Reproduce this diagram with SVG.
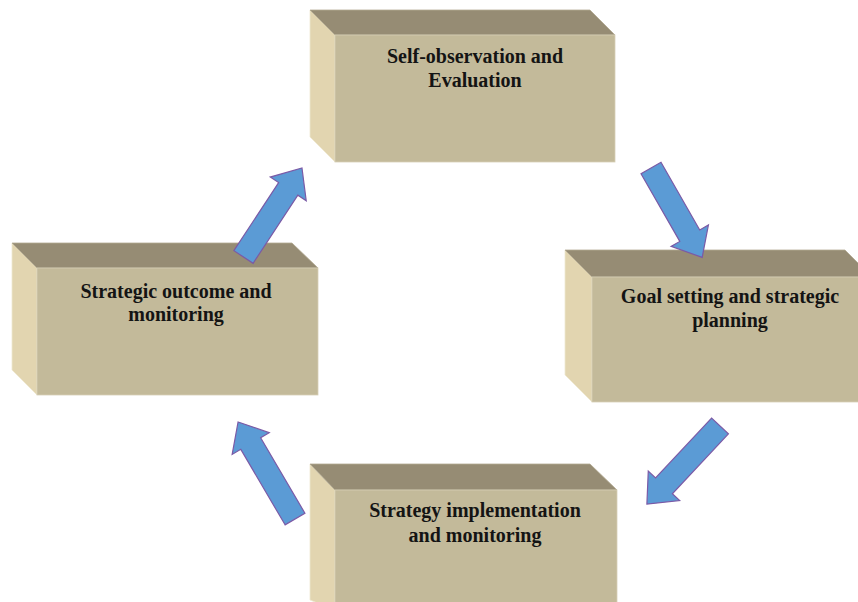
<svg xmlns="http://www.w3.org/2000/svg" width="858" height="602" viewBox="0 0 858 602">
<style>
.side{fill:#e2d5b0;stroke:#efe8d2;stroke-width:0.8}
.top{fill:#968c74;stroke:#b3aa92;stroke-width:0.8}
.front{fill:#c3ba9a;stroke:#d6cfb6;stroke-width:0.8}
.lbl{font-family:"Liberation Serif","Times New Roman",serif;font-weight:bold;font-size:20px;fill:#141414;text-anchor:middle}
.arrow{fill:#5b9bd5;stroke:#7b5aa6;stroke-width:1.2;stroke-linejoin:miter}
</style>
<rect width="858" height="602" fill="#ffffff"/>
<g id="node-self-observation">
<polygon class="side" points="310,10 335,35 335,162 310,137"/>
<polygon class="top" points="310,10 590,10 615,35 335,35"/>
<rect class="front" x="335" y="35" width="280" height="127"/>
<text class="lbl" x="475" y="63">Self-observation and</text>
<text class="lbl" x="475" y="87">Evaluation</text>
</g>
<g id="node-goal-setting">
<polygon class="side" points="565,250 592,277 592,402 565,375"/>
<polygon class="top" points="565,250 845,250 872,277 592,277"/>
<rect class="front" x="592" y="277" width="280" height="125"/>
<text class="lbl" x="730" y="303">Goal setting and strategic</text>
<text class="lbl" x="730" y="327">planning</text>
</g>
<g id="node-strategy-implementation">
<polygon class="side" points="310,464 335,490 335,610 310,600"/>
<polygon class="top" points="310,464 590,464 617,490 335,490"/>
<rect class="front" x="335" y="490" width="282" height="120"/>
<text class="lbl" x="475" y="517">Strategy implementation</text>
<text class="lbl" x="475" y="542">and monitoring</text>
</g>
<g id="node-strategic-outcome">
<polygon class="side" points="12,243 37,268 37,395 12,370"/>
<polygon class="top" points="12,243 292,243 318,268 37,268"/>
<rect class="front" x="37" y="268" width="281" height="127"/>
<text class="lbl" x="176" y="298">Strategic outcome and</text>
<text class="lbl" x="176" y="321">monitoring</text>
</g>
<g id="connectors">
<polygon class="arrow" transform="translate(651,168) rotate(60.2)" points="0,-11.5 78,-11.5 78,-21.5 103,0 78,21.5 78,11.5 0,11.5"/>
<polygon class="arrow" transform="translate(720,426) rotate(133.1)" points="0,-11.5 82,-11.5 82,-21.5 107,0 82,21.5 82,11.5 0,11.5"/>
<polygon class="arrow" transform="translate(295,519) rotate(-120.4)" points="0,-11.5 87.5,-11.5 87.5,-21.5 112.5,0 87.5,21.5 87.5,11.5 0,11.5"/>
<polygon class="arrow" transform="translate(243.5,257) rotate(-56.7)" points="0,-11.5 81.5,-11.5 81.5,-21.5 106.5,0 81.5,21.5 81.5,11.5 0,11.5"/>
</g>
</svg>
